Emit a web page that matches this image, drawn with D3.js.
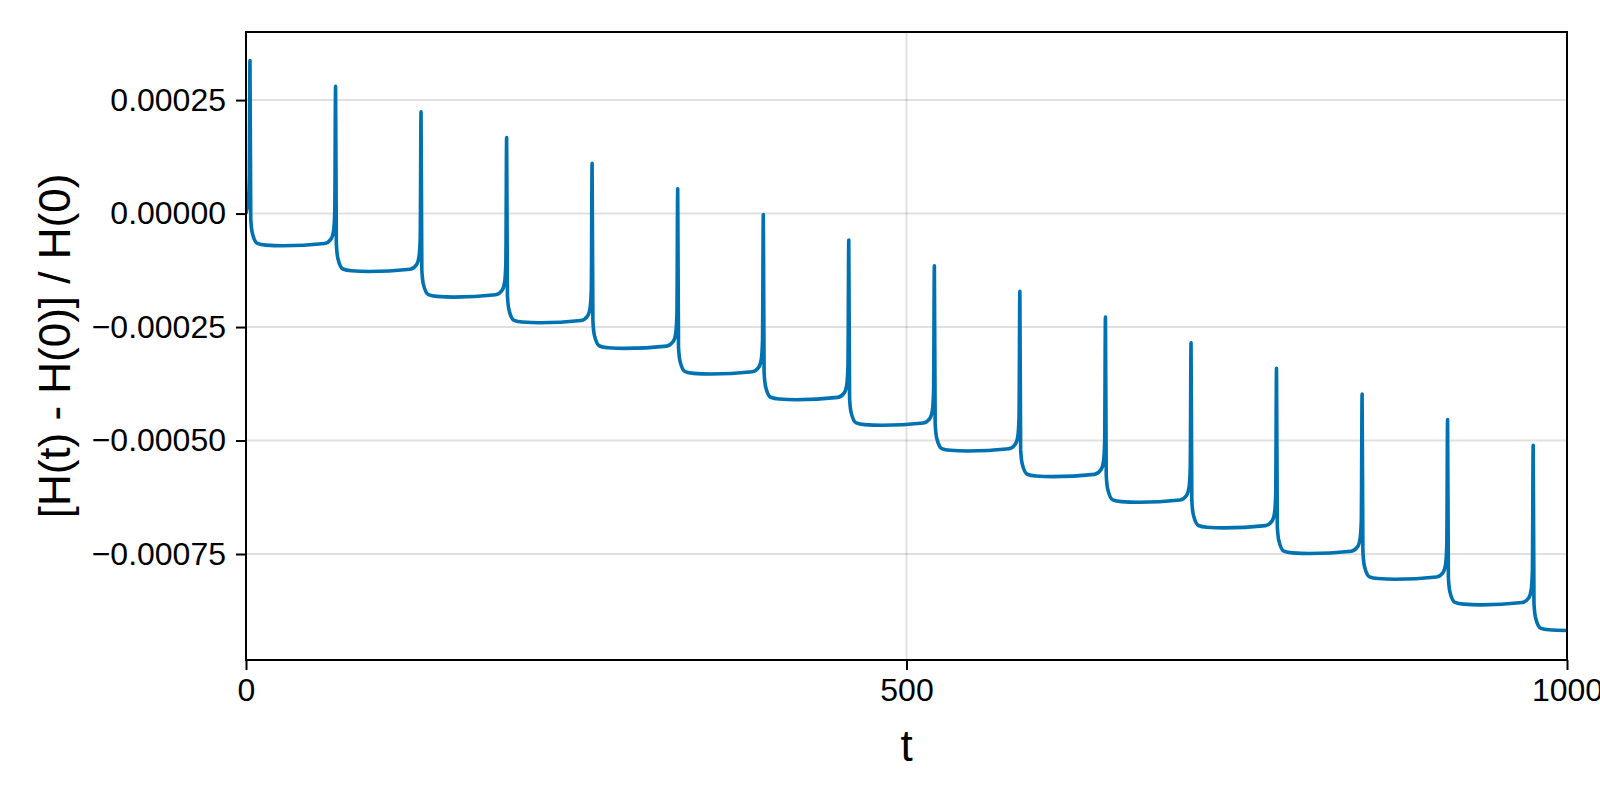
<!DOCTYPE html>
<html>
<head>
<meta charset="utf-8">
<script src="https://cdn.jsdelivr.net/npm/d3@7"></script>
<style>
  html, body { margin: 0; padding: 0; background: #ffffff; }
  svg { display: block; }
  text { font-family: "Liberation Sans", Arial, Helvetica, sans-serif; fill: #000; }
</style>
</head>
<body>
<svg id="chart" width="1600" height="800"></svg>
<script>
// ---- data ----
const xLabel = "t";
const yLabel = "[H(t) - H(0)] / H(0)";

const xTicks = [0, 500, 1000];
const xTickLabels = ["0", "500", "1000"];
const yTicks = [-0.00075, -0.0005, -0.00025, 0, 0.00025];
const yTickLabels = ["\u22120.00075", "\u22120.00050", "\u22120.00025", "0.00000", "0.00025"];

const xDomain = [0, 1000];
const yDomain = [-0.0009835, 0.0004];

// traced points of the relative energy error curve
const times = [
  0, 1.0, 2.0, 2.5, 3.0, 3.6, 4.8, 8.6, 15, 28,
  59.5, 64.5, 66.3, 67.2, 67.8, 68.4, 69.6, 73.4, 79.8, 92.8,
  124.2, 129.2, 131.0, 131.9, 132.5, 133.1, 134.3, 138.1, 144.5, 157.5,
  189.0, 194.0, 195.8, 196.7, 197.3, 197.9, 199.1, 202.9, 209.3, 222.3,
  253.7, 258.7, 260.5, 261.4, 262.0, 262.6, 263.8, 267.6, 274.0, 287.0,
  318.5, 323.5, 325.3, 326.2, 326.8, 327.4, 328.6, 332.4, 338.8, 351.8,
  383.3, 388.3, 390.1, 391.0, 391.6, 392.2, 393.4, 397.2, 403.6, 416.6,
  448.0, 453.0, 454.8, 455.7, 456.3, 456.9, 458.1, 461.9, 468.3, 481.3,
  512.8, 517.8, 519.6, 520.5, 521.1, 521.7, 522.9, 526.7, 533.1, 546.1,
  577.5, 582.5, 584.3, 585.2, 585.8, 586.4, 587.6, 591.4, 597.8, 610.8,
  642.3, 647.3, 649.1, 650.0, 650.6, 651.2, 652.4, 656.2, 662.6, 675.6,
  707.1, 712.1, 713.9, 714.8, 715.4, 716.0, 717.2, 721.0, 727.4, 740.4,
  771.8, 776.8, 778.6, 779.5, 780.1, 780.7, 781.9, 785.7, 792.1, 805.1,
  836.6, 841.6, 843.4, 844.3, 844.9, 845.5, 846.7, 850.5, 856.9, 869.9,
  901.3, 906.3, 908.1, 909.0, 909.6, 910.2, 911.4, 915.2, 921.6, 934.6,
  966.1, 971.1, 972.9, 973.8, 974.4, 975.0, 976.2, 980.0, 986.4, 1000
];
const energyError = [
  0, 15e-6, 38e-6, 80e-6, 337e-6, -11e-6, -43e-6, -65.7e-6, -69.5e-6, -71e-6,
  -66e-6, -55.5e-6, -38e-6, 4e-6, 280.5e-6, -67.5e-6, -99.5e-6, -122.2e-6, -126e-6, -127.5e-6,
  -122.5e-6, -112e-6, -94.5e-6, -52.5e-6, 224e-6, -124e-6, -156e-6, -178.7e-6, -182.5e-6, -184e-6,
  -179e-6, -168.5e-6, -151e-6, -109e-6, 167.5e-6, -180.5e-6, -212.5e-6, -235.2e-6, -239e-6, -240.5e-6,
  -235.5e-6, -225e-6, -207.5e-6, -165.5e-6, 111e-6, -237e-6, -269e-6, -291.7e-6, -295.5e-6, -297e-6,
  -292e-6, -281.5e-6, -264e-6, -222e-6, 54.5e-6, -293.5e-6, -325.5e-6, -348.2e-6, -352e-6, -353.5e-6,
  -348.5e-6, -338e-6, -320.5e-6, -278.5e-6, -2e-6, -350e-6, -382e-6, -404.7e-6, -408.5e-6, -410e-6,
  -405e-6, -394.5e-6, -377e-6, -335e-6, -58.5e-6, -406.5e-6, -438.5e-6, -461.2e-6, -465e-6, -466.5e-6,
  -461.5e-6, -451e-6, -433.5e-6, -391.5e-6, -115e-6, -463e-6, -495e-6, -517.7e-6, -521.5e-6, -523e-6,
  -518e-6, -507.5e-6, -490e-6, -448e-6, -171.5e-6, -519.5e-6, -551.5e-6, -574.2e-6, -578e-6, -579.5e-6,
  -574.5e-6, -564e-6, -546.5e-6, -504.5e-6, -228e-6, -576e-6, -608e-6, -630.7e-6, -634.5e-6, -636e-6,
  -631e-6, -620.5e-6, -603e-6, -561e-6, -284.5e-6, -632.5e-6, -664.5e-6, -687.2e-6, -691e-6, -692.5e-6,
  -687.5e-6, -677e-6, -659.5e-6, -617.5e-6, -341e-6, -689e-6, -721e-6, -743.7e-6, -747.5e-6, -749e-6,
  -744e-6, -733.5e-6, -716e-6, -674e-6, -397.5e-6, -745.5e-6, -777.5e-6, -800.2e-6, -804e-6, -805.5e-6,
  -800.5e-6, -790e-6, -772.5e-6, -730.5e-6, -454e-6, -802e-6, -834e-6, -856.7e-6, -860.5e-6, -862e-6,
  -857e-6, -846.5e-6, -829e-6, -787e-6, -510.5e-6, -858.5e-6, -890.5e-6, -913.2e-6, -917e-6, -918.5e-6
];

// ---- layout ----
const plot = { left: 246, right: 1567, top: 32, bottom: 660 };

const svg = d3.select("#chart");
svg.append("rect").attr("width", 1600).attr("height", 800).attr("fill", "#ffffff");

const x = d3.scaleLinear().domain(xDomain).range([plot.left, plot.right]);
const y = d3.scaleLinear().domain(yDomain).range([plot.bottom, plot.top]);

// grid
const grid = svg.append("g");
grid.selectAll("line.gy").data(yTicks).join("line")
  .attr("x1", plot.left).attr("x2", plot.right)
  .attr("y1", d => y(d)).attr("y2", d => y(d))
  .attr("stroke", "rgba(0,0,0,0.12)").attr("stroke-width", 2);
grid.selectAll("line.gx").data(xTicks).join("line")
  .attr("y1", plot.top).attr("y2", plot.bottom)
  .attr("x1", d => x(d)).attr("x2", d => x(d))
  .attr("stroke", "rgba(0,0,0,0.12)").attr("stroke-width", 2);

// clip
svg.append("clipPath").attr("id", "clip")
  .append("rect").attr("x", plot.left).attr("y", plot.top)
  .attr("width", plot.right - plot.left).attr("height", plot.bottom - plot.top);

// line
const pts = times.map((t, i) => [t, energyError[i]]);
const line = d3.line().x(d => x(d[0])).y(d => y(d[1])).curve(d3.curveMonotoneX);
svg.append("path")
  .attr("clip-path", "url(#clip)")
  .attr("d", line(pts))
  .attr("fill", "none")
  .attr("stroke", "#0072B2")
  .attr("stroke-width", 3.6)
  .attr("stroke-linejoin", "round");

// frame
svg.append("rect")
  .attr("x", plot.left).attr("y", plot.top)
  .attr("width", plot.right - plot.left).attr("height", plot.bottom - plot.top)
  .attr("fill", "none").attr("stroke", "#000").attr("stroke-width", 2);

// axes
const xAxis = d3.axisBottom(x).tickValues(xTicks)
  .tickFormat((d, i) => xTickLabels[i]).tickSize(10).tickPadding(8);
const gx = svg.append("g").attr("transform", `translate(0,${plot.bottom})`).call(xAxis);
gx.select(".domain").remove();
gx.selectAll(".tick line").attr("stroke", "#000").attr("stroke-width", 2);
gx.selectAll(".tick text").attr("font-size", 32).attr("font-family", "Liberation Sans, Arial, sans-serif").attr("fill", "#000");

const yAxis = d3.axisLeft(y).tickValues(yTicks)
  .tickFormat((d, i) => yTickLabels[i]).tickSize(10).tickPadding(10);
const gy = svg.append("g").attr("transform", `translate(${plot.left},0)`).call(yAxis);
gy.select(".domain").remove();
gy.selectAll(".tick line").attr("stroke", "#000").attr("stroke-width", 2);
gy.selectAll(".tick text").attr("font-size", 32).attr("font-family", "Liberation Sans, Arial, sans-serif").attr("fill", "#000");

// axis labels
svg.append("text")
  .attr("x", (plot.left + plot.right) / 2).attr("y", 761)
  .attr("text-anchor", "middle").attr("font-size", 44)
  .text(xLabel);

svg.append("text")
  .attr("transform", `translate(70,${(plot.top + plot.bottom) / 2}) rotate(-90)`)
  .attr("text-anchor", "middle").attr("font-size", 44)
  .text(yLabel);
</script>
</body>
</html>
